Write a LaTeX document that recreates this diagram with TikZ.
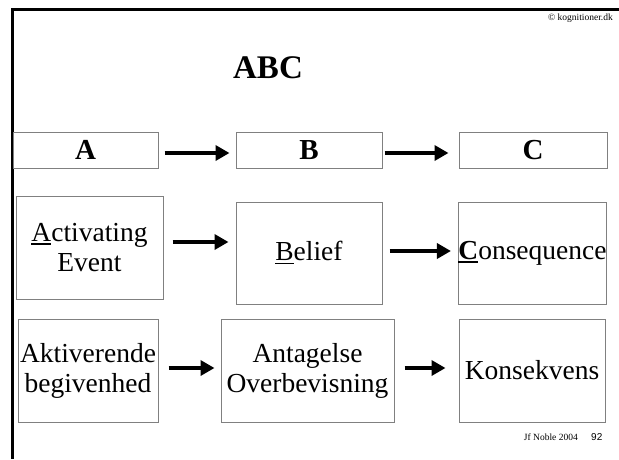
\documentclass[tikz,border=0pt]{standalone}
\usepackage{fontspec}
\setmainfont{Liberation Serif}
\newfontfamily\sansf{Liberation Sans}
\usetikzlibrary{arrows.meta}
\definecolor{boxgray}{RGB}{128,128,128}
\newcommand\myul[1]{\setbox0\hbox{#1}\rlap{\rule[-3.5pt]{\wd0}{1.6pt}}\box0}
\begin{document}
\begin{tikzpicture}[x=1pt,y=-1pt,
  box/.style={draw=boxgray,line width=1pt,inner sep=0pt,align=center,font=\fontsize{27.5}{30}\selectfont},
  hbox/.style={box,font=\fontsize{29}{30}\selectfont\bfseries},
  arr/.style={line width=4.8pt,-{Triangle[length=14pt,width=15pt]}},
  frameline/.style={line width=2.5pt}]
\useasboundingbox (0,0) rectangle (619,459);
% frame
\coordinate (tl) at (12.5,9.5);
\coordinate (tr) at (619,9.5);
\coordinate (bl) at (12.5,459);
\draw[frameline] (tr) -- (tl) -- (bl);
% small texts
\node[anchor=base east,inner sep=0pt,font=\fontsize{9.5}{10}\selectfont] (copy) at (613,20) {\textcopyright\ kognitioner.dk};
\node[anchor=base east,inner sep=0pt,font=\fontsize{9.5}{10}\selectfont] (foot) at (578,440) {Jf Noble 2004};
\node[anchor=base west,inner sep=0pt,font=\sansf\fontsize{10}{11}\selectfont] (pg) at (591,440) {92};
% title
\node[inner sep=0pt,font=\fontsize{33}{36}\selectfont\bfseries] (title) at (268,68) {ABC};
% row 1
\node[hbox,minimum width=145pt,minimum height=36pt] (a1) at (85.5,150) {A};
\node[hbox,minimum width=146pt,minimum height=36pt] (b1) at (309,150) {B};
\node[hbox,minimum width=148pt,minimum height=36pt] (c1) at (533,150) {C};
% row 2
\node[box,minimum width=147pt,minimum height=103pt] (a2) at (89.5,247.5) {\myul{A}ctivating\\Event};
\node[box,minimum width=146pt,minimum height=102pt] (b2) at (309,253) {\myul{B}elief};
\node[box,minimum width=147pt,minimum height=102pt] (c2) at (532.5,253) {\myul{\textbf{C}}onsequence};
% row 3
\node[box,minimum width=140pt,minimum height=103pt] (a3) at (88,370.5) {Aktiverende\\begivenhed};
\node[box,minimum width=173pt,minimum height=103pt] (b3) at (307.5,370.5) {Antagelse\\Overbevisning};
\node[box,minimum width=146pt,minimum height=103pt] (c3) at (532,370.5) {Konsekvens};
% arrows
\draw[arr,shorten <=6pt,shorten >=6pt] ([yshift=-3pt]a1.east) -- ([yshift=-3pt]b1.west);
\draw[arr,shorten <=2pt,shorten >=10pt] ([yshift=-3pt]b1.east) -- ([yshift=-3pt]c1.west);
\draw[arr,shorten <=9pt,shorten >=7pt] ([yshift=5.5pt]a2.east) -- ([yshift=11pt]b2.west);
\draw[arr,shorten <=7pt,shorten >=7pt] ([yshift=2pt]b2.east) -- ([yshift=2pt]c2.west);
\draw[arr,shorten <=10pt,shorten >=6pt] ([yshift=2.5pt]a3.east) -- ([yshift=2.5pt]b3.west);
\draw[arr,shorten <=10pt,shorten >=13pt] ([yshift=2.5pt]b3.east) -- ([yshift=2.5pt]c3.west);
\end{tikzpicture}
\end{document}
